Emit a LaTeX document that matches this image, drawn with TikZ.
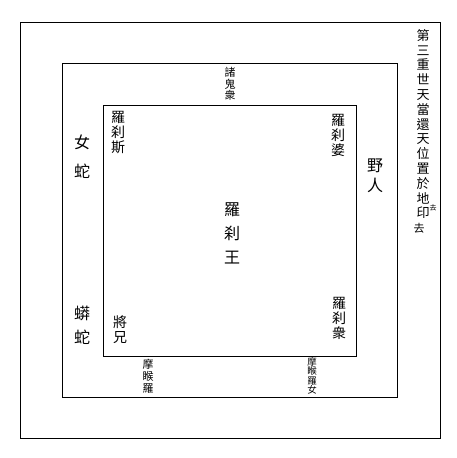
\documentclass[tikz,border=0pt]{standalone}
\usepackage{fontspec}
\newfontfamily\cjk{Noto Sans CJK TC}
\begin{document}
\begin{tikzpicture}[x=1pt,y=-1pt]
\tikzset{
  frame/.style={draw=black,line width=0.9pt},
  lab/.style 2 args={font=\cjk\fontsize{#1}{#2}\selectfont, align=center, inner sep=0pt, text=black}
}
\useasboundingbox[fill=white] (0,0) rectangle (457,458);
% frames
\draw[frame] (20,22) rectangle (440,438);
\draw[frame] (62,63) rectangle (397,397);
\draw[frame] (103,105) rectangle (356,356);
% labels
\node[lab={16}{24}] (king) at (232,233) {羅\\刹\\王};
\node[lab={14}{15}] (rsi) at (118,133) {羅\\刹\\斯};
\node[lab={14}{15}] (rpo) at (338,135) {羅\\刹\\婆};
\node[lab={16}{29}] (nvshe) at (82,157) {女\\蛇};
\node[lab={16}{20}] (yeren) at (375,176) {野\\人};
\node[lab={16}{24}] (mang) at (82,325) {蟒\\蛇};
\node[lab={14}{15}] (jiang) at (120,330) {將\\兄};
\node[lab={14}{15}] (rzhong) at (339,318) {羅\\刹\\衆};
\node[lab={11}{11.5}] (gui) at (230,84) {諸\\鬼\\衆};
\node[lab={11}{12}] (mhl) at (148,376) {摩\\睺\\羅};
\node[lab={9.5}{9.5}] (mhln) at (312,376) {摩\\睺\\羅\\女};
\node[lab={13}{14.8}] (col) at (423,124) {第\\三\\重\\世\\天\\當\\還\\天\\位\\置\\於\\地\\印};
\node[lab={7}{7}] (qu1) at (433,208) {去};
\node[lab={11}{11}] (qu2) at (419,228) {去};
\end{tikzpicture}
\end{document}
